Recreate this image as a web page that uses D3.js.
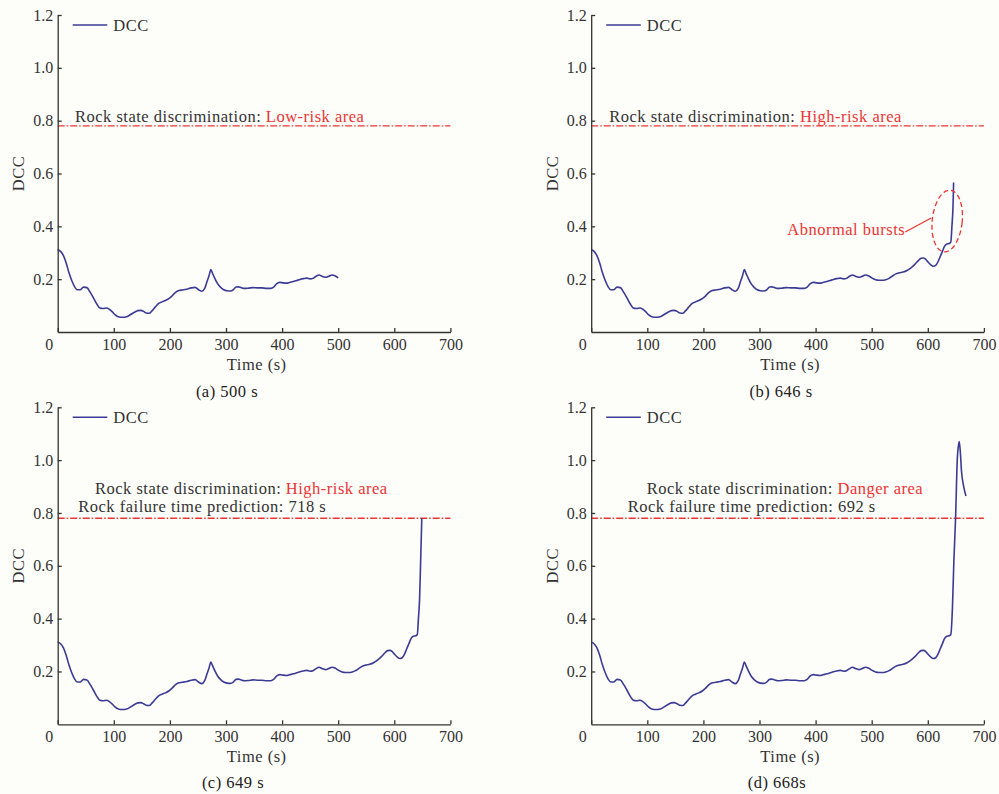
<!DOCTYPE html>
<html>
<head>
<meta charset="utf-8">
<script src="https://cdn.jsdelivr.net/npm/d3@7"></script>
<style>
	body { margin: 0; background: #fdfdf9; }
	svg { display: block; font-family: "Liberation Serif", "Times New Roman", serif; }
	.lbl { font-size: 16.5px; letter-spacing: 0.5px; }
</style>
</head>
<body>
<svg id="chart" width="999" height="794"></svg>
<script>
// DCC curve shared by all four panels
const times = [0, 5, 10, 15, 20, 25, 30, 35, 40, 46, 52, 58, 64, 70, 75, 81, 87, 92, 97, 102, 108, 115, 123, 130, 137, 143, 148, 153, 158, 163, 168, 174, 180, 186, 192, 198, 204, 210, 216, 222, 230, 238, 245, 251, 257, 262, 266, 270, 273, 276, 280, 285, 290, 296, 302, 308, 313, 318, 322, 327, 333, 340, 348, 356, 364, 372, 380, 385, 390, 396, 402, 408, 414, 420, 426, 432, 438, 444, 450, 455, 460, 466, 471, 477, 483, 489, 495, 500, 507, 513, 519, 525, 531, 537, 543, 549, 556, 563, 570, 577, 583, 588, 592, 596, 600, 605, 610, 614, 618, 622, 626, 630, 634, 638, 641];
const dcc = [0.312, 0.305, 0.29, 0.262, 0.225, 0.195, 0.172, 0.16, 0.16, 0.17, 0.168, 0.15, 0.128, 0.105, 0.091, 0.089, 0.091, 0.086, 0.077, 0.066, 0.058, 0.056, 0.058, 0.066, 0.075, 0.081, 0.082, 0.078, 0.072, 0.071, 0.08, 0.095, 0.108, 0.114, 0.119, 0.126, 0.137, 0.15, 0.157, 0.159, 0.162, 0.167, 0.169, 0.16, 0.154, 0.165, 0.19, 0.215, 0.236, 0.222, 0.203, 0.183, 0.17, 0.16, 0.156, 0.155, 0.16, 0.17, 0.171, 0.168, 0.165, 0.166, 0.168, 0.167, 0.167, 0.165, 0.165, 0.17, 0.182, 0.188, 0.186, 0.185, 0.188, 0.191, 0.195, 0.199, 0.202, 0.204, 0.201, 0.203, 0.21, 0.216, 0.211, 0.207, 0.211, 0.216, 0.212, 0.205, 0.198, 0.196, 0.196, 0.198, 0.203, 0.212, 0.22, 0.224, 0.227, 0.233, 0.243, 0.256, 0.27, 0.279, 0.28, 0.276, 0.266, 0.255, 0.249, 0.252, 0.265, 0.285, 0.305, 0.325, 0.333, 0.335, 0.34];

// the end of the curve differs in each panel
const tailB_t = [643, 645, 646];
const tailB_v = [0.40, 0.48, 0.566];
const tailC_t = [643, 645, 647, 649];
const tailC_v = [0.40, 0.47, 0.62, 0.78];
const tailD_t = [644, 646.5, 649.5, 652.5, 655, 656, 658, 660, 664, 668];
const tailD_v = [0.445, 0.62, 0.78, 1.0, 1.06, 1.07, 1.03, 0.96, 0.9, 0.864];

const xTicks = [0, 100, 200, 300, 400, 500, 600, 700];
const yTicks = [0.2, 0.4, 0.6, 0.8, 1.0, 1.2];
const threshold = 0.78;

const panelEnd = [500, 646, 649, 668];
const captions = ["(a) 500 s", "(b) 646 s", "(c) 649 s", "(d) 668s"];
const stateLabels = ["Low-risk area", "High-risk area", "High-risk area", "Danger area"];
const predictions = [null, null, "718 s", "692 s"];

const blue = "#3b3b96";
const red = "#ec3434";
const ink = "#333";

const svg = d3.select("#chart");

// panel layout
const panels = [
	{ left: 57.7, top: 15, tail: [[], []], capX: 227, capY: 396.5, stateX: 17.3, stateY: 106.7 },
	{ left: 591.2, top: 15, tail: [tailB_t, tailB_v], capX: 781, capY: 396.5, stateX: 18, stateY: 106.7, bursts: true },
	{ left: 57.7, top: 407.3, tail: [tailC_t, tailC_v], capX: 233, capY: 788, stateX: 37.3, stateY: 87, predX: 20.6, predY: 104.4 },
	{ left: 591.2, top: 407.3, tail: [tailD_t, tailD_v], capX: 777, capY: 788, stateX: 55.5, stateY: 87, predX: 36.5, predY: 104.4 },
];
const W = 392.7;
const H = 317;

panels.forEach((p, i) => {
	const x = d3.scaleLinear().domain([0, 700]).range([0, W]);
	const y = d3.scaleLinear().domain([0, 1.2]).range([H, 0]);

	const g = svg.append("g").attr("transform", `translate(${p.left},${p.top})`);

	// threshold line
	g.append("line")
		.attr("x1", x(0)).attr("x2", x(700))
		.attr("y1", y(threshold)).attr("y2", y(threshold))
		.attr("stroke", red).attr("stroke-width", 1.3)
		.attr("stroke-dasharray", "7,2,1.5,2");

	// curve
	let pts = times.map((t, k) => [t, dcc[k]]).filter((d) => d[0] <= panelEnd[i]);
	p.tail[0].forEach((t, k) => pts.push([t, p.tail[1][k]]));
	const line = d3.line().x((d) => x(d[0])).y((d) => y(d[1])).curve(d3.curveMonotoneX);
	g.append("path").datum(pts)
		.attr("d", line)
		.attr("fill", "none").attr("stroke", blue).attr("stroke-width", 1.6);

	// axes, ticks pointing inward
	const xAxis = g.append("g").attr("transform", `translate(0,${H})`)
		.call(d3.axisBottom(x).tickValues(xTicks).tickSizeInner(-4).tickSizeOuter(0).tickPadding(6.5));
	xAxis.selectAll("text").filter((d) => d === 0).attr("dx", -9);

	const yAxis = g.append("g")
		.call(d3.axisLeft(y).tickValues(yTicks).tickFormat(d3.format(".1f")).tickSizeInner(-4).tickSizeOuter(0).tickPadding(4.5));

	[xAxis, yAxis].forEach((a) => {
		a.selectAll("path, line").attr("stroke", ink).attr("stroke-width", 1.3);
		a.selectAll("text").attr("fill", ink).attr("font-size", 16).attr("font-family", "Liberation Serif");
	});

	g.append("text").attr("class", "lbl")
		.attr("x", 199).attr("y", 355)
		.attr("text-anchor", "middle").attr("fill", ink)
		.text("Time (s)");

	g.append("text").attr("class", "lbl")
		.attr("transform", `translate(-39.4,${H / 2}) rotate(-90)`)
		.attr("text-anchor", "middle").attr("dy", "0.35em").attr("fill", ink)
		.text("DCC");

	// legend
	g.append("line")
		.attr("x1", 15).attr("x2", 49.6).attr("y1", 10).attr("y2", 10)
		.attr("stroke", blue).attr("stroke-width", 1.6);
	g.append("text").attr("class", "lbl")
		.attr("x", 55.6).attr("y", 10).attr("dy", "0.35em")
		.attr("fill", ink)
		.text("DCC");

	// state text
	const st = g.append("text").attr("class", "lbl")
		.attr("x", p.stateX).attr("y", p.stateY)
		.attr("fill", ink);
	st.append("tspan").text("Rock state discrimination: ");
	st.append("tspan").attr("fill", red).text(stateLabels[i]);

	if (predictions[i]) {
		g.append("text").attr("class", "lbl")
			.attr("x", p.predX).attr("y", p.predY)
			.attr("fill", ink)
			.text("Rock failure time prediction: " + predictions[i]);
	}

	if (p.bursts) {
		const cx = x(634.6);
		const cy = y(0.42);
		g.append("ellipse")
			.attr("transform", `translate(${cx},${cy}) rotate(6)`)
			.attr("rx", 15).attr("ry", 31)
			.attr("fill", "none").attr("stroke", red).attr("stroke-width", 1.3)
			.attr("stroke-dasharray", "5,3");
		g.append("line")
			.attr("x1", cx - 42).attr("y1", cy + 11)
			.attr("x2", cx - 16).attr("y2", cy - 3)
			.attr("stroke", red).attr("stroke-width", 1.2);
		g.append("text").attr("class", "lbl")
			.attr("x", cx - 42).attr("y", cy + 14)
			.attr("text-anchor", "end").attr("fill", red)
			.text("Abnormal bursts");
	}

	svg.append("text").attr("class", "lbl")
		.attr("x", p.capX).attr("y", p.capY)
		.attr("text-anchor", "middle").attr("fill", "#222")
		.text(captions[i]);
});
</script>
</body>
</html>
